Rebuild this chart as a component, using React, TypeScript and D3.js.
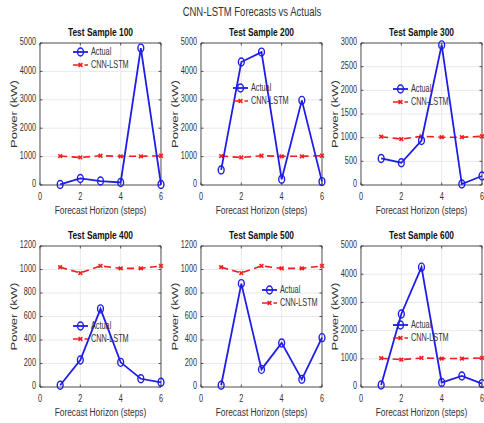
import React from "react";
import * as d3 from "d3";

// ---- data ----
const steps = [1, 2, 3, 4, 5, 6];
const cnnForecast = [1020, 970, 1030, 1010, 1010, 1030];
const actual100 = [20, 230, 140, 90, 4820, 20];
const actual200 = [530, 4330, 4680, 200, 2980, 120];
const actual300 = [560, 470, 940, 2960, 20, 190];
const actual400 = [15, 230, 665, 210, 70, 40];
const actual500 = [15, 880, 150, 375, 65, 420];
const actual600 = [70, 2590, 4250, 160, 390, 120];
const sampleIds = [100, 200, 300, 400, 500, 600];
const actualSeries = [actual100, actual200, actual300, actual400, actual500, actual600];
const yMax = [5000, 5000, 3000, 1200, 1200, 5000];
const yStep = [1000, 1000, 500, 200, 200, 1000];
const xTicks = [0, 2, 4, 6];
const mainTitle = "CNN-LSTM Forecasts vs Actuals";
const xLabel = "Forecast Horizon (steps)";
const yLabel = "Power (kW)";
const legendLabels = ["Actual", "CNN-LSTM"];

// ---- layout (real pixels, horizontally compressed via viewBox) ----
const K = 0.73;
const W = 484;
const H = 423;
const VW = W / K;
const v = (x: number) => x / K;
const colLeft = [40, 201, 361];
const axW = 121;
const rowTop = [43, 246];
const axH = [142, 141];
// legend offsets (real px) from axes left / top
const legendOff = [
  [33, 9],
  [32, 45],
  [32, 46],
  [33, 80],
  [61, 44],
  [32, 79],
];

const FONT = "'Liberation Sans', Arial, Helvetica, sans-serif";
const BLUE = "#1e1ee8";
const RED = "#f01e1e";
const AX = "#303030";

function Panel({ i }: { i: number }) {
  const col = i % 3;
  const row = Math.floor(i / 3);
  const L = v(colLeft[col]);
  const R = v(colLeft[col] + axW);
  const T = rowTop[row];
  const B = rowTop[row] + axH[row];
  const x = d3.scaleLinear().domain([0, 6]).range([L, R]);
  const y = d3.scaleLinear().domain([0, yMax[i]]).range([B, T]);
  const yTicks = d3.range(0, yMax[i] + 1, yStep[i]);
  const act = actualSeries[i];
  const line = d3
    .line<number>()
    .x((_, j) => x(steps[j]))
    .y((d) => y(d));
  const [lox, loy] = legendOff[i];
  const lx0 = v(colLeft[col] + lox);
  const lx1 = v(colLeft[col] + lox + 15);
  const lxm = (lx0 + lx1) / 2;
  const ly0 = T + loy;
  const ly1 = ly0 + 13;
  const xMark = (cx: number, cy: number, key: any) => (
    <g key={key} stroke={RED} strokeWidth={1.6} vectorEffect="non-scaling-stroke">
      <line x1={cx - 2.6} y1={cy - 1.8} x2={cx + 2.6} y2={cy + 1.8} vectorEffect="non-scaling-stroke" />
      <line x1={cx - 2.6} y1={cy + 1.8} x2={cx + 2.6} y2={cy - 1.8} vectorEffect="non-scaling-stroke" />
    </g>
  );
  return (
    <g>
      <rect x={L} y={T} width={R - L} height={B - T} fill="#fff" />
      {/* grid */}
      {yTicks.map((t) => (
        <line key={"gy" + t} x1={L} x2={R} y1={y(t)} y2={y(t)} stroke="#e3e3e3" strokeWidth={0.8} vectorEffect="non-scaling-stroke" />
      ))}
      {xTicks.map((t) => (
        <line key={"gx" + t} x1={x(t)} x2={x(t)} y1={T} y2={B} stroke="#e3e3e3" strokeWidth={0.8} vectorEffect="non-scaling-stroke" />
      ))}
      {/* box */}
      <rect x={L} y={T} width={R - L} height={B - T} fill="none" stroke={AX} strokeWidth={0.8} vectorEffect="non-scaling-stroke" />
      {/* ticks */}
      {yTicks.map((t) => (
        <g key={"ty" + t}>
          <line x1={L} x2={L + v(2.5)} y1={y(t)} y2={y(t)} stroke={AX} strokeWidth={0.8} vectorEffect="non-scaling-stroke" />
          <line x1={R} x2={R - v(2.5)} y1={y(t)} y2={y(t)} stroke={AX} strokeWidth={0.8} vectorEffect="non-scaling-stroke" />
          <text x={L - v(4)} y={y(t) - 1} textAnchor="end" dominantBaseline="central" fontSize={10} fill="#333" fontFamily={FONT}>
            {t}
          </text>
        </g>
      ))}
      {xTicks.map((t) => (
        <g key={"tx" + t}>
          <line x1={x(t)} x2={x(t)} y1={B} y2={B - 2.5} stroke={AX} strokeWidth={0.8} vectorEffect="non-scaling-stroke" />
          <line x1={x(t)} x2={x(t)} y1={T} y2={T + 2.5} stroke={AX} strokeWidth={0.8} vectorEffect="non-scaling-stroke" />
          <text x={x(t)} y={B + 15} textAnchor="middle" fontSize={10} fill="#333" fontFamily={FONT}>
            {t}
          </text>
        </g>
      ))}
      {/* labels */}
      <text x={(L + R) / 2} y={T - 7} textAnchor="middle" fontSize={11.5} fontWeight="bold" fill="#111" fontFamily={FONT}>
        {"Test Sample " + sampleIds[i]}
      </text>
      <text x={(L + R) / 2} y={B + 29.5} textAnchor="middle" fontSize={11.5} fill="#333" fontFamily={FONT}>
        {xLabel}
      </text>
      <text
        transform={`translate(${v(colLeft[col] - 26.5)},${(T + B) / 2}) rotate(-90)`}
        textAnchor="middle"
        dominantBaseline="central"
        fontSize={13}
        fill="#333"
        fontFamily={FONT}
      >
        {yLabel}
      </text>
      {/* CNN-LSTM */}
      <path d={line(cnnForecast) || ""} fill="none" stroke={RED} strokeWidth={1.6} strokeDasharray="7,4.5" vectorEffect="non-scaling-stroke" />
      {cnnForecast.map((d, j) => xMark(x(steps[j]), y(d), "m" + j))}
      {/* Actual */}
      <path d={line(act) || ""} fill="none" stroke={BLUE} strokeWidth={1.8} vectorEffect="non-scaling-stroke" />
      {act.map((d, j) => (
        <circle key={"c" + j} cx={x(steps[j])} cy={y(d)} r={4} fill="none" stroke={BLUE} strokeWidth={1.4} vectorEffect="non-scaling-stroke" />
      ))}
      {/* legend */}
      <line x1={lx0} x2={lx1} y1={ly0} y2={ly0} stroke={BLUE} strokeWidth={1.8} vectorEffect="non-scaling-stroke" />
      <circle cx={lxm} cy={ly0} r={4} fill="none" stroke={BLUE} strokeWidth={1.4} vectorEffect="non-scaling-stroke" />
      <text x={lx1 + v(3)} y={ly0} dominantBaseline="central" fontSize={10} fill="#333" fontFamily={FONT}>
        {legendLabels[0]}
      </text>
      <line x1={lx0} x2={lx1} y1={ly1} y2={ly1} stroke={RED} strokeWidth={1.6} strokeDasharray="7,4.5" vectorEffect="non-scaling-stroke" />
      {xMark(lxm, ly1, "lm")}
      <text x={lx1 + v(3)} y={ly1} dominantBaseline="central" fontSize={10} fill="#333" fontFamily={FONT}>
        {legendLabels[1]}
      </text>
    </g>
  );
}

export default function App() {
  return (
    <svg
      width={W}
      height={H}
      viewBox={`0 0 ${VW} ${H}`}
      preserveAspectRatio="none"
      style={{ position: "absolute", left: 0, top: 0, background: "#fff" }}
    >
      <rect x={0} y={0} width={VW} height={H} fill="#fff" />
      <text x={v(252)} y={16.5} textAnchor="middle" fontSize={13} fill="#333" fontFamily={FONT}>
        {mainTitle}
      </text>
      {sampleIds.map((_, i) => (
        <Panel key={i} i={i} />
      ))}
    </svg>
  );
}
